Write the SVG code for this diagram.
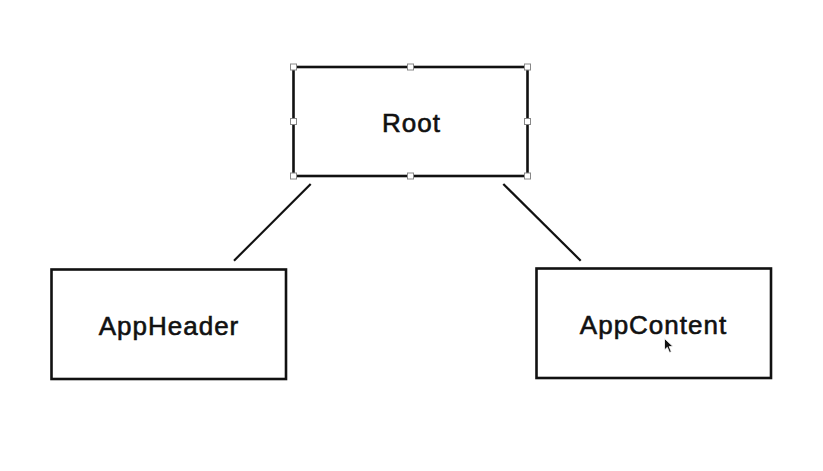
<svg xmlns="http://www.w3.org/2000/svg" width="823" height="471" viewBox="0 0 823 471">
<style>
.box{fill:#fff;stroke:#111;stroke-width:2.6}
.lbl{font-family:"Liberation Sans",Arial,sans-serif;font-size:26px;letter-spacing:1px;fill:#111;stroke:#111;stroke-width:0.6;text-anchor:middle}
.conn{stroke:#111;stroke-width:2.2;fill:none}
.h{fill:#fff;stroke:#888;stroke-width:1}
</style>
<rect width="823" height="471" fill="#fff"/>
<g id="connectors">
<line class="conn" x1="310.7" y1="184" x2="234" y2="260.7"/>
<line class="conn" x1="503.3" y1="184" x2="580.7" y2="260.7"/>
</g>
<g id="root">
<rect class="box" x="293.5" y="67" width="234" height="109"/>
<text class="lbl" x="411.5" y="132">Root</text>
<rect class="h" x="290.5" y="64" width="6" height="6"/>
<rect class="h" x="407.5" y="64" width="6" height="6"/>
<rect class="h" x="524.5" y="64" width="6" height="6"/>
<rect class="h" x="290.5" y="118.5" width="6" height="6"/>
<rect class="h" x="524.5" y="118.5" width="6" height="6"/>
<rect class="h" x="290.5" y="173" width="6" height="6"/>
<rect class="h" x="407.5" y="173" width="6" height="6"/>
<rect class="h" x="524.5" y="173" width="6" height="6"/>
</g>
<g id="appheader">
<rect class="box" x="51.5" y="269.5" width="234.5" height="109.5"/>
<text class="lbl" x="169" y="335">AppHeader</text>
</g>
<g id="appcontent">
<rect class="box" x="536.5" y="268.5" width="234.5" height="109.5"/>
<text class="lbl" x="653.5" y="334">AppContent</text>
</g>
<path d="M664.5 338.5 L664.5 350 L667.3 347.3 L669.5 352.5 L671.3 351.7 L669.2 346.6 L673 346.6 Z" fill="#111" stroke="#fff" stroke-width="0.8"/>
</svg>
